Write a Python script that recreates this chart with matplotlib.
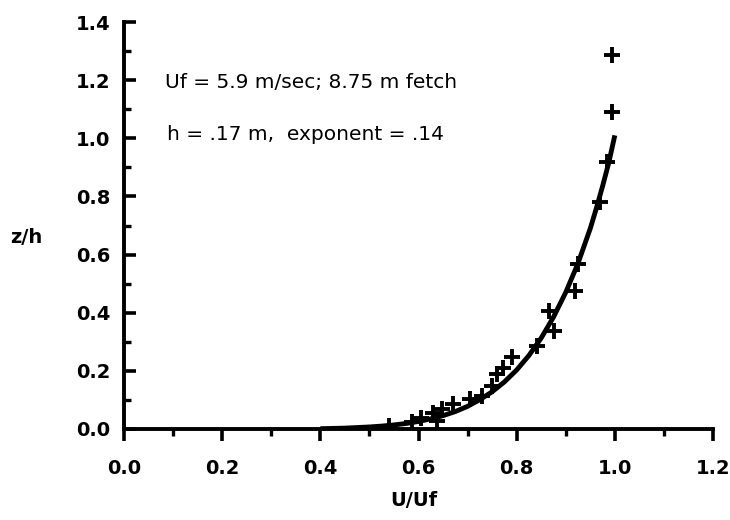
import matplotlib
matplotlib.use("Agg")
import matplotlib.pyplot as plt
from matplotlib.ticker import MultipleLocator

# Measured points (U/Uf, z/h)
u_meas = [0.994, 0.994, 0.984, 0.969, 0.924, 0.918, 0.865, 0.876, 0.841, 0.790,
          0.773, 0.759, 0.749, 0.729, 0.704, 0.671, 0.647, 0.630, 0.637, 0.606,
          0.586, 0.539]
z_meas = [1.286, 1.090, 0.920, 0.780, 0.566, 0.476, 0.407, 0.338, 0.286, 0.248,
          0.210, 0.190, 0.148, 0.114, 0.103, 0.086, 0.069, 0.055, 0.028, 0.038,
          0.024, 0.010]

# Fitted power-law curve
u_fit = [0.400, 0.425, 0.450, 0.475, 0.500, 0.525, 0.550, 0.575, 0.600, 0.625,
         0.650, 0.675, 0.700, 0.725, 0.750, 0.775, 0.800, 0.825, 0.850, 0.875,
         0.900, 0.925, 0.950, 0.9625, 0.975, 0.9875, 1.000]
z_fit = [0.001, 0.002, 0.003, 0.005, 0.007, 0.010, 0.014, 0.019, 0.026, 0.035,
         0.046, 0.060, 0.078, 0.101, 0.128, 0.162, 0.203, 0.253, 0.313, 0.385,
         0.470, 0.570, 0.690, 0.760, 0.835, 0.915, 1.010]

x_ticks = [0.0, 0.2, 0.4, 0.6, 0.8, 1.0, 1.2]
y_ticks = [0.0, 0.2, 0.4, 0.6, 0.8, 1.0, 1.2, 1.4]
annot1 = "Uf = 5.9 m/sec; 8.75 m fetch"
annot2 = "h = .17 m,  exponent = .14"

plt.rcParams['font.family'] = ['DejaVu Sans']

fig = plt.figure(figsize=(7.3, 5.2), dpi=100)
ax = fig.add_axes([124/730, 91/520, 589/730, 407/520])

ax.plot(u_fit, z_fit, color='black', lw=3.5, solid_capstyle='butt',
        solid_joinstyle='round', zorder=2)
ax.plot(u_meas, z_meas, linestyle='none', marker='+', ms=11, mew=2.8,
        color='black', zorder=3)

ax.set_xlim(0.0, 1.2)
ax.set_ylim(0.0, 1.4)
ax.set_xticks(x_ticks)
ax.set_yticks(y_ticks)
ax.set_xticklabels([f"{v:.1f}" for v in x_ticks])
ax.set_yticklabels([f"{v:.1f}" for v in y_ticks])
ax.xaxis.set_minor_locator(MultipleLocator(0.1))
ax.yaxis.set_minor_locator(MultipleLocator(0.1))

for s in ['top', 'right']:
    ax.spines[s].set_visible(False)
for s in ['left', 'bottom']:
    ax.spines[s].set_linewidth(2.8)
    ax.spines[s].set_capstyle('projecting')

ax.tick_params(axis='x', which='major', direction='out', length=8.5, width=2.6,
               labelsize=14, pad=13)
ax.tick_params(axis='x', which='minor', direction='out', length=5, width=2.4)
ax.tick_params(axis='y', which='major', direction='in', length=8.5, width=2.6,
               labelsize=14, pad=10)
ax.tick_params(axis='y', which='minor', direction='in', length=5, width=2.4)
for lab in ax.get_xticklabels() + ax.get_yticklabels():
    lab.set_fontweight('bold')

fig.text(414/730, 1 - 501/520, "U/Uf", fontsize=14, fontweight='bold',
         ha='center', va='center')
fig.text(26/730, 1 - 238/520, "z/h", fontsize=14, fontweight='bold',
         ha='center', va='center')

ax.text(0.084, 1.173, annot1, fontsize=14.5, ha='left', va='baseline')
ax.text(0.088, 0.994, annot2, fontsize=14.5, ha='left', va='baseline')

fig.savefig("out.png", dpi=100)
